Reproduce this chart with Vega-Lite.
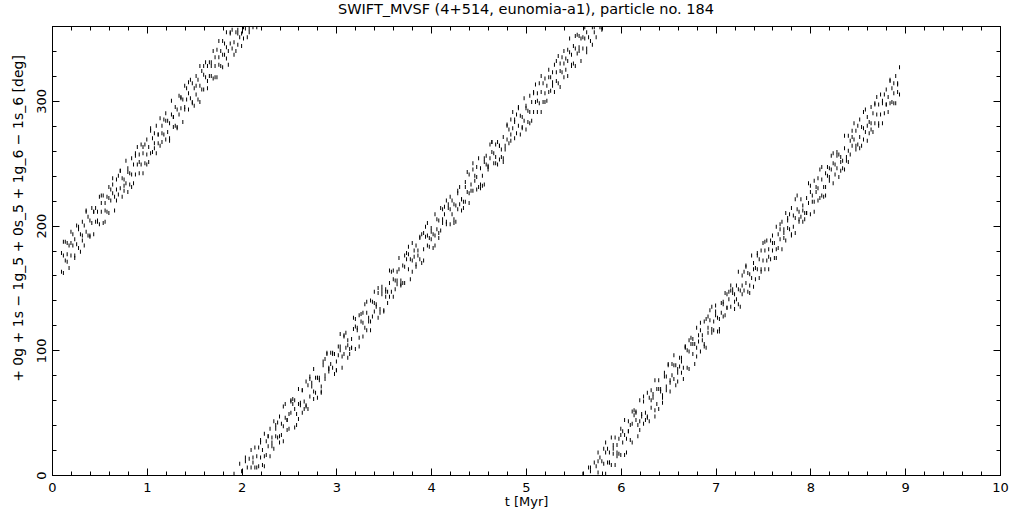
{
"$schema": "https://vega.github.io/schema/vega-lite/v6.json",
"width": 948, "height": 449,
"autosize": "none",
"padding": {"left": 52, "top": 26, "right": 21, "bottom": 36},
"background": "white",
"title": {"text": "SWIFT_MVSF (4+514, eunomia-a1), particle no. 184", "font": "DejaVu Sans", "fontSize": 14.5, "fontWeight": "normal", "color": "black", "anchor": "middle", "offset": 8},
"config": {"view": {"stroke": "black", "strokeWidth": 1}},
"data": {"values": [
{"t":0.10,"y":163},{"t":0.10,"y":178},{"t":0.12,"y":176},{"t":0.12,"y":162},{"t":0.14,"y":187},{"t":0.14,"y":172},{"t":0.16,"y":186},{"t":0.16,"y":177},{"t":0.18,"y":166},{"t":0.18,"y":184},
{"t":0.20,"y":195},{"t":0.20,"y":176},{"t":0.22,"y":184},{"t":0.22,"y":193},{"t":0.24,"y":176},{"t":0.24,"y":189},{"t":0.26,"y":185},{"t":0.26,"y":200},{"t":0.28,"y":182},{"t":0.28,"y":197},
{"t":0.30,"y":179},{"t":0.30,"y":193},{"t":0.32,"y":203},{"t":0.32,"y":188},{"t":0.34,"y":200},{"t":0.34,"y":184},{"t":0.36,"y":211},{"t":0.36,"y":195},{"t":0.38,"y":192},{"t":0.38,"y":207},
{"t":0.40,"y":204},{"t":0.40,"y":192},{"t":0.42,"y":202},{"t":0.42,"y":214},{"t":0.44,"y":193},{"t":0.44,"y":211},{"t":0.46,"y":214},{"t":0.46,"y":203},{"t":0.48,"y":203},{"t":0.48,"y":211},
{"t":0.50,"y":223},{"t":0.50,"y":201},{"t":0.52,"y":211},{"t":0.52,"y":218},{"t":0.54,"y":224},{"t":0.54,"y":202},{"t":0.56,"y":212},{"t":0.56,"y":218},{"t":0.58,"y":223},{"t":0.58,"y":211},
{"t":0.60,"y":210},{"t":0.60,"y":231},{"t":0.62,"y":229},{"t":0.62,"y":220},{"t":0.64,"y":226},{"t":0.64,"y":238},{"t":0.66,"y":212},{"t":0.66,"y":223},{"t":0.68,"y":237},{"t":0.68,"y":229},
{"t":0.70,"y":240},{"t":0.70,"y":225},{"t":0.72,"y":230},{"t":0.72,"y":244},{"t":0.74,"y":223},{"t":0.74,"y":238},{"t":0.76,"y":228},{"t":0.76,"y":237},{"t":0.78,"y":252},{"t":0.78,"y":234},
{"t":0.80,"y":227},{"t":0.80,"y":246},{"t":0.82,"y":242},{"t":0.82,"y":233},{"t":0.84,"y":254},{"t":0.84,"y":241},{"t":0.86,"y":249},{"t":0.86,"y":234},{"t":0.88,"y":256},{"t":0.88,"y":241},
{"t":0.90,"y":263},{"t":0.90,"y":249},{"t":0.92,"y":242},{"t":0.92,"y":257},{"t":0.94,"y":249},{"t":0.94,"y":265},{"t":0.96,"y":242},{"t":0.96,"y":258},{"t":0.98,"y":265},{"t":0.98,"y":250},
{"t":1.00,"y":257},{"t":1.00,"y":269},{"t":1.02,"y":263},{"t":1.02,"y":251},{"t":1.04,"y":276},{"t":1.04,"y":258},{"t":1.06,"y":259},{"t":1.06,"y":270},{"t":1.08,"y":274},{"t":1.08,"y":266},
{"t":1.10,"y":258},{"t":1.10,"y":280},{"t":1.12,"y":273},{"t":1.12,"y":266},{"t":1.14,"y":264},{"t":1.14,"y":286},{"t":1.16,"y":280},{"t":1.16,"y":274},{"t":1.18,"y":273},{"t":1.18,"y":285},
{"t":1.20,"y":290},{"t":1.20,"y":269},{"t":1.22,"y":275},{"t":1.22,"y":284},{"t":1.24,"y":282},{"t":1.24,"y":270},{"t":1.26,"y":300},{"t":1.26,"y":289},{"t":1.28,"y":279},{"t":1.28,"y":287},
{"t":1.30,"y":295},{"t":1.30,"y":280},{"t":1.32,"y":279},{"t":1.32,"y":293},{"t":1.34,"y":289},{"t":1.34,"y":304},{"t":1.36,"y":294},{"t":1.36,"y":303},{"t":1.38,"y":301},{"t":1.38,"y":283},
{"t":1.40,"y":293},{"t":1.40,"y":312},{"t":1.42,"y":310},{"t":1.42,"y":301},{"t":1.44,"y":306},{"t":1.44,"y":293},{"t":1.46,"y":317},{"t":1.46,"y":302},{"t":1.48,"y":314},{"t":1.48,"y":299},
{"t":1.50,"y":310},{"t":1.50,"y":296},{"t":1.52,"y":305},{"t":1.52,"y":320},{"t":1.54,"y":301},{"t":1.54,"y":317},{"t":1.56,"y":312},{"t":1.56,"y":328},{"t":1.58,"y":324},{"t":1.58,"y":309},
{"t":1.60,"y":309},{"t":1.60,"y":321},{"t":1.62,"y":331},{"t":1.62,"y":319},{"t":1.64,"y":328},{"t":1.64,"y":310},{"t":1.66,"y":320},{"t":1.66,"y":331},{"t":1.68,"y":328},{"t":1.68,"y":320},
{"t":1.70,"y":318},{"t":1.70,"y":340},{"t":1.72,"y":335},{"t":1.72,"y":328},{"t":1.74,"y":319},{"t":1.74,"y":341},{"t":1.76,"y":335},{"t":1.76,"y":329},{"t":1.78,"y":328},{"t":1.78,"y":340},
{"t":1.80,"y":348},{"t":1.80,"y":327},{"t":1.82,"y":337},{"t":1.82,"y":346},{"t":1.84,"y":355},{"t":1.84,"y":343},{"t":1.86,"y":340},{"t":1.86,"y":329},{"t":1.88,"y":346},{"t":1.88,"y":354},
{"t":1.90,"y":342},{"t":1.90,"y":357},{"t":1.92,"y":1},{"t":1.92,"y":347},{"t":1.94,"y":355},{"t":1.94,"y":340},{"t":1.96,"y":354},{"t":1.96,"y":345},{"t":1.98,"y":351},{"t":1.98,"y":9},
{"t":2.00,"y":3},{"t":2.00,"y":344},{"t":2.02,"y":350},{"t":2.02,"y":359},{"t":2.04,"y":358},{"t":2.04,"y":11},{"t":2.06,"y":351},{"t":2.06,"y":6},{"t":2.08,"y":358},{"t":2.08,"y":13},
{"t":2.10,"y":6},{"t":2.10,"y":20},{"t":2.12,"y":14},{"t":2.12,"y":359},{"t":2.14,"y":22},{"t":2.14,"y":6},{"t":2.16,"y":15},{"t":2.16,"y":359},{"t":2.18,"y":7},{"t":2.18,"y":22},
{"t":2.20,"y":26},{"t":2.20,"y":14},{"t":2.22,"y":8},{"t":2.22,"y":20},{"t":2.24,"y":15},{"t":2.24,"y":33},{"t":2.26,"y":27},{"t":2.26,"y":16},{"t":2.28,"y":23},{"t":2.28,"y":31},
{"t":2.30,"y":37},{"t":2.30,"y":15},{"t":2.32,"y":23},{"t":2.32,"y":30},{"t":2.34,"y":43},{"t":2.34,"y":21},{"t":2.36,"y":31},{"t":2.36,"y":37},{"t":2.38,"y":42},{"t":2.38,"y":30},
{"t":2.40,"y":26},{"t":2.40,"y":47},{"t":2.42,"y":41},{"t":2.42,"y":32},{"t":2.44,"y":27},{"t":2.44,"y":39},{"t":2.46,"y":46},{"t":2.46,"y":57},{"t":2.48,"y":44},{"t":2.48,"y":36},
{"t":2.50,"y":37},{"t":2.50,"y":49},{"t":2.52,"y":50},{"t":2.52,"y":60},{"t":2.54,"y":61},{"t":2.54,"y":57},{"t":2.56,"y":60},{"t":2.56,"y":53},{"t":2.58,"y":40},{"t":2.58,"y":49},
{"t":2.60,"y":69},{"t":2.60,"y":45},{"t":2.62,"y":58},{"t":2.62,"y":56},{"t":2.64,"y":50},{"t":2.64,"y":68},{"t":2.66,"y":59},{"t":2.66,"y":53},{"t":2.68,"y":56},{"t":2.68,"y":75},
{"t":2.70,"y":53},{"t":2.70,"y":72},{"t":2.72,"y":77},{"t":2.72,"y":63},{"t":2.74,"y":74},{"t":2.74,"y":71},{"t":2.76,"y":85},{"t":2.76,"y":61},{"t":2.78,"y":66},{"t":2.78,"y":78},
{"t":2.80,"y":78},{"t":2.80,"y":62},{"t":2.82,"y":76},{"t":2.82,"y":78},{"t":2.84,"y":67},{"t":2.84,"y":71},{"t":2.86,"y":88},{"t":2.86,"y":91},{"t":2.88,"y":77},{"t":2.88,"y":80},
{"t":2.90,"y":97},{"t":2.90,"y":98},{"t":2.92,"y":85},{"t":2.92,"y":83},{"t":2.94,"y":98},{"t":2.94,"y":89},{"t":2.96,"y":86},{"t":2.96,"y":97},{"t":2.98,"y":97},{"t":2.98,"y":81},
{"t":3.00,"y":84},{"t":3.00,"y":91},{"t":3.02,"y":103},{"t":3.02,"y":96},{"t":3.04,"y":100},{"t":3.04,"y":103},{"t":3.06,"y":86},{"t":3.06,"y":95},{"t":3.08,"y":111},{"t":3.08,"y":112},
{"t":3.10,"y":114},{"t":3.10,"y":102},{"t":3.12,"y":104},{"t":3.12,"y":94},{"t":3.14,"y":97},{"t":3.14,"y":101},{"t":3.16,"y":102},{"t":3.16,"y":109},{"t":3.18,"y":126},{"t":3.18,"y":117},
{"t":3.20,"y":101},{"t":3.20,"y":125},{"t":3.22,"y":116},{"t":3.22,"y":118},{"t":3.24,"y":128},{"t":3.24,"y":110},{"t":3.26,"y":123},{"t":3.26,"y":129},{"t":3.28,"y":130},{"t":3.28,"y":111},
{"t":3.30,"y":137},{"t":3.30,"y":118},{"t":3.32,"y":116},{"t":3.32,"y":130},{"t":3.34,"y":123},{"t":3.34,"y":126},{"t":3.36,"y":116},{"t":3.36,"y":140},{"t":3.38,"y":139},{"t":3.38,"y":127},
{"t":3.40,"y":131},{"t":3.40,"y":147},{"t":3.42,"y":137},{"t":3.42,"y":135},{"t":3.44,"y":150},{"t":3.44,"y":146},{"t":3.46,"y":133},{"t":3.46,"y":130},{"t":3.48,"y":148},{"t":3.48,"y":145},
{"t":3.50,"y":132},{"t":3.50,"y":131},{"t":3.52,"y":147},{"t":3.52,"y":149},{"t":3.54,"y":138},{"t":3.54,"y":147},{"t":3.56,"y":154},{"t":3.56,"y":143},{"t":3.58,"y":147},{"t":3.58,"y":163},
{"t":3.60,"y":164},{"t":3.60,"y":157},{"t":3.62,"y":149},{"t":3.62,"y":156},{"t":3.64,"y":156},{"t":3.64,"y":153},{"t":3.66,"y":174},{"t":3.66,"y":165},{"t":3.68,"y":153},{"t":3.68,"y":152},
{"t":3.70,"y":154},{"t":3.70,"y":168},{"t":3.72,"y":167},{"t":3.72,"y":176},{"t":3.74,"y":178},{"t":3.74,"y":173},{"t":3.76,"y":177},{"t":3.76,"y":165},{"t":3.78,"y":157},{"t":3.78,"y":173},
{"t":3.80,"y":186},{"t":3.80,"y":163},{"t":3.82,"y":175},{"t":3.82,"y":180},{"t":3.84,"y":167},{"t":3.84,"y":184},{"t":3.86,"y":176},{"t":3.86,"y":180},{"t":3.88,"y":173},{"t":3.88,"y":191},
{"t":3.90,"y":170},{"t":3.90,"y":193},{"t":3.92,"y":194},{"t":3.92,"y":181},{"t":3.94,"y":191},{"t":3.94,"y":199},{"t":3.96,"y":202},{"t":3.96,"y":184},{"t":3.98,"y":183},{"t":3.98,"y":190},
{"t":4.00,"y":195},{"t":4.00,"y":198},{"t":4.02,"y":193},{"t":4.02,"y":182},{"t":4.04,"y":184},{"t":4.04,"y":192},{"t":4.06,"y":205},{"t":4.06,"y":197},{"t":4.08,"y":194},{"t":4.08,"y":204},
{"t":4.10,"y":214},{"t":4.10,"y":196},{"t":4.12,"y":202},{"t":4.12,"y":213},{"t":4.14,"y":215},{"t":4.14,"y":209},{"t":4.16,"y":203},{"t":4.16,"y":220},{"t":4.18,"y":214},{"t":4.18,"y":217},
{"t":4.20,"y":201},{"t":4.20,"y":213},{"t":4.22,"y":220},{"t":4.22,"y":209},{"t":4.24,"y":217},{"t":4.24,"y":205},{"t":4.26,"y":203},{"t":4.26,"y":216},{"t":4.28,"y":228},{"t":4.28,"y":213},
{"t":4.30,"y":231},{"t":4.30,"y":217},{"t":4.32,"y":221},{"t":4.32,"y":212},{"t":4.34,"y":214},{"t":4.34,"y":219},{"t":4.36,"y":219},{"t":4.36,"y":231},{"t":4.38,"y":243},{"t":4.38,"y":227},
{"t":4.40,"y":218},{"t":4.40,"y":241},{"t":4.42,"y":233},{"t":4.42,"y":228},{"t":4.44,"y":245},{"t":4.44,"y":228},{"t":4.46,"y":240},{"t":4.46,"y":236},{"t":4.48,"y":247},{"t":4.48,"y":229},
{"t":4.50,"y":254},{"t":4.50,"y":231},{"t":4.52,"y":233},{"t":4.52,"y":246},{"t":4.54,"y":240},{"t":4.54,"y":232},{"t":4.56,"y":233},{"t":4.56,"y":251},{"t":4.58,"y":256},{"t":4.58,"y":249},
{"t":4.60,"y":248},{"t":4.60,"y":245},{"t":4.62,"y":254},{"t":4.62,"y":265},{"t":4.64,"y":267},{"t":4.64,"y":259},{"t":4.66,"y":250},{"t":4.66,"y":258},{"t":4.68,"y":265},{"t":4.68,"y":255},
{"t":4.70,"y":249},{"t":4.70,"y":267},{"t":4.72,"y":264},{"t":4.72,"y":253},{"t":4.74,"y":255},{"t":4.74,"y":261},{"t":4.76,"y":271},{"t":4.76,"y":254},{"t":4.78,"y":264},{"t":4.78,"y":261},
{"t":4.80,"y":281},{"t":4.80,"y":269},{"t":4.82,"y":266},{"t":4.82,"y":277},{"t":4.84,"y":273},{"t":4.84,"y":285},{"t":4.86,"y":291},{"t":4.86,"y":278},{"t":4.88,"y":270},{"t":4.88,"y":285},
{"t":4.90,"y":274},{"t":4.90,"y":289},{"t":4.92,"y":294},{"t":4.92,"y":280},{"t":4.94,"y":288},{"t":4.94,"y":273},{"t":4.96,"y":287},{"t":4.96,"y":278},{"t":4.98,"y":284},{"t":4.98,"y":302},
{"t":5.00,"y":296},{"t":5.00,"y":277},{"t":5.02,"y":283},{"t":5.02,"y":292},{"t":5.04,"y":291},{"t":5.04,"y":304},{"t":5.06,"y":284},{"t":5.06,"y":299},{"t":5.08,"y":291},{"t":5.08,"y":306},
{"t":5.10,"y":299},{"t":5.10,"y":313},{"t":5.12,"y":306},{"t":5.12,"y":291},{"t":5.14,"y":314},{"t":5.14,"y":298},{"t":5.16,"y":307},{"t":5.16,"y":291},{"t":5.18,"y":299},{"t":5.18,"y":314},
{"t":5.20,"y":318},{"t":5.20,"y":306},{"t":5.22,"y":300},{"t":5.22,"y":312},{"t":5.24,"y":307},{"t":5.24,"y":325},{"t":5.26,"y":319},{"t":5.26,"y":308},{"t":5.28,"y":315},{"t":5.28,"y":323},
{"t":5.30,"y":329},{"t":5.30,"y":307},{"t":5.32,"y":316},{"t":5.32,"y":323},{"t":5.34,"y":336},{"t":5.34,"y":314},{"t":5.36,"y":324},{"t":5.36,"y":330},{"t":5.38,"y":335},{"t":5.38,"y":323},
{"t":5.40,"y":319},{"t":5.40,"y":340},{"t":5.42,"y":334},{"t":5.42,"y":325},{"t":5.44,"y":320},{"t":5.44,"y":332},{"t":5.46,"y":339},{"t":5.46,"y":350},{"t":5.48,"y":337},{"t":5.48,"y":329},
{"t":5.50,"y":330},{"t":5.50,"y":344},{"t":5.52,"y":342},{"t":5.52,"y":328},{"t":5.54,"y":353},{"t":5.54,"y":338},{"t":5.56,"y":352},{"t":5.56,"y":343},{"t":5.58,"y":332},{"t":5.58,"y":350},
{"t":5.60,"y":1},{"t":5.60,"y":342},{"t":5.62,"y":350},{"t":5.62,"y":359},{"t":5.64,"y":342},{"t":5.64,"y":355},{"t":5.66,"y":351},{"t":5.66,"y":6},{"t":5.68,"y":348},{"t":5.68,"y":3},
{"t":5.70,"y":345},{"t":5.70,"y":359},{"t":5.72,"y":10},{"t":5.72,"y":355},{"t":5.74,"y":7},{"t":5.74,"y":351},{"t":5.76,"y":18},{"t":5.76,"y":2},{"t":5.78,"y":359},{"t":5.78,"y":14},
{"t":5.80,"y":11},{"t":5.80,"y":359},{"t":5.82,"y":9},{"t":5.82,"y":21},{"t":5.84,"y":1},{"t":5.84,"y":18},{"t":5.86,"y":21},{"t":5.86,"y":10},{"t":5.88,"y":10},{"t":5.88,"y":18},
{"t":5.90,"y":30},{"t":5.90,"y":8},{"t":5.92,"y":17},{"t":5.92,"y":24},{"t":5.94,"y":30},{"t":5.94,"y":8},{"t":5.96,"y":18},{"t":5.96,"y":24},{"t":5.98,"y":29},{"t":5.98,"y":17},
{"t":6.00,"y":16},{"t":6.00,"y":37},{"t":6.02,"y":35},{"t":6.02,"y":26},{"t":6.04,"y":32},{"t":6.04,"y":44},{"t":6.06,"y":18},{"t":6.06,"y":29},{"t":6.08,"y":43},{"t":6.08,"y":35},
{"t":6.10,"y":28},{"t":6.10,"y":40},{"t":6.12,"y":41},{"t":6.12,"y":51},{"t":6.14,"y":52},{"t":6.14,"y":48},{"t":6.16,"y":51},{"t":6.16,"y":44},{"t":6.18,"y":31},{"t":6.18,"y":40},
{"t":6.20,"y":60},{"t":6.20,"y":36},{"t":6.22,"y":49},{"t":6.22,"y":47},{"t":6.24,"y":41},{"t":6.24,"y":59},{"t":6.26,"y":50},{"t":6.26,"y":44},{"t":6.28,"y":47},{"t":6.28,"y":66},
{"t":6.30,"y":43},{"t":6.30,"y":62},{"t":6.32,"y":68},{"t":6.32,"y":54},{"t":6.34,"y":65},{"t":6.34,"y":62},{"t":6.36,"y":76},{"t":6.36,"y":52},{"t":6.38,"y":57},{"t":6.38,"y":69},
{"t":6.40,"y":69},{"t":6.40,"y":53},{"t":6.42,"y":67},{"t":6.42,"y":69},{"t":6.44,"y":58},{"t":6.44,"y":62},{"t":6.46,"y":79},{"t":6.46,"y":82},{"t":6.48,"y":68},{"t":6.48,"y":71},
{"t":6.50,"y":88},{"t":6.50,"y":89},{"t":6.52,"y":76},{"t":6.52,"y":74},{"t":6.54,"y":89},{"t":6.54,"y":80},{"t":6.56,"y":77},{"t":6.56,"y":88},{"t":6.58,"y":88},{"t":6.58,"y":72},
{"t":6.60,"y":75},{"t":6.60,"y":82},{"t":6.62,"y":94},{"t":6.62,"y":87},{"t":6.64,"y":91},{"t":6.64,"y":94},{"t":6.66,"y":77},{"t":6.66,"y":86},{"t":6.68,"y":102},{"t":6.68,"y":103},
{"t":6.70,"y":86},{"t":6.70,"y":100},{"t":6.72,"y":99},{"t":6.72,"y":108},{"t":6.74,"y":110},{"t":6.74,"y":105},{"t":6.76,"y":109},{"t":6.76,"y":97},{"t":6.78,"y":89},{"t":6.78,"y":105},
{"t":6.80,"y":118},{"t":6.80,"y":95},{"t":6.82,"y":107},{"t":6.82,"y":112},{"t":6.84,"y":99},{"t":6.84,"y":116},{"t":6.86,"y":108},{"t":6.86,"y":112},{"t":6.88,"y":105},{"t":6.88,"y":123},
{"t":6.90,"y":102},{"t":6.90,"y":125},{"t":6.92,"y":127},{"t":6.92,"y":114},{"t":6.94,"y":124},{"t":6.94,"y":132},{"t":6.96,"y":135},{"t":6.96,"y":117},{"t":6.98,"y":116},{"t":6.98,"y":123},
{"t":7.00,"y":128},{"t":7.00,"y":131},{"t":7.02,"y":126},{"t":7.02,"y":115},{"t":7.04,"y":117},{"t":7.04,"y":125},{"t":7.06,"y":138},{"t":7.06,"y":130},{"t":7.08,"y":127},{"t":7.08,"y":137},
{"t":7.10,"y":146},{"t":7.10,"y":128},{"t":7.12,"y":134},{"t":7.12,"y":145},{"t":7.14,"y":147},{"t":7.14,"y":141},{"t":7.16,"y":135},{"t":7.16,"y":152},{"t":7.18,"y":146},{"t":7.18,"y":149},
{"t":7.20,"y":133},{"t":7.20,"y":145},{"t":7.22,"y":152},{"t":7.22,"y":141},{"t":7.24,"y":149},{"t":7.24,"y":137},{"t":7.26,"y":135},{"t":7.26,"y":148},{"t":7.28,"y":160},{"t":7.28,"y":145},
{"t":7.30,"y":163},{"t":7.30,"y":148},{"t":7.32,"y":154},{"t":7.32,"y":168},{"t":7.34,"y":147},{"t":7.34,"y":162},{"t":7.36,"y":152},{"t":7.36,"y":161},{"t":7.38,"y":176},{"t":7.38,"y":158},
{"t":7.40,"y":151},{"t":7.40,"y":170},{"t":7.42,"y":166},{"t":7.42,"y":157},{"t":7.44,"y":178},{"t":7.44,"y":165},{"t":7.46,"y":173},{"t":7.46,"y":158},{"t":7.48,"y":180},{"t":7.48,"y":165},
{"t":7.50,"y":186},{"t":7.50,"y":172},{"t":7.52,"y":165},{"t":7.52,"y":180},{"t":7.54,"y":172},{"t":7.54,"y":188},{"t":7.56,"y":165},{"t":7.56,"y":181},{"t":7.58,"y":188},{"t":7.58,"y":173},
{"t":7.60,"y":180},{"t":7.60,"y":192},{"t":7.62,"y":186},{"t":7.62,"y":174},{"t":7.64,"y":199},{"t":7.64,"y":181},{"t":7.66,"y":182},{"t":7.66,"y":193},{"t":7.68,"y":197},{"t":7.68,"y":189},
{"t":7.70,"y":181},{"t":7.70,"y":203},{"t":7.72,"y":197},{"t":7.72,"y":190},{"t":7.74,"y":188},{"t":7.74,"y":210},{"t":7.76,"y":204},{"t":7.76,"y":198},{"t":7.78,"y":197},{"t":7.78,"y":209},
{"t":7.80,"y":214},{"t":7.80,"y":193},{"t":7.82,"y":199},{"t":7.82,"y":208},{"t":7.84,"y":206},{"t":7.84,"y":194},{"t":7.86,"y":224},{"t":7.86,"y":213},{"t":7.88,"y":203},{"t":7.88,"y":211},
{"t":7.90,"y":221},{"t":7.90,"y":207},{"t":7.92,"y":212},{"t":7.92,"y":203},{"t":7.94,"y":205},{"t":7.94,"y":210},{"t":7.96,"y":210},{"t":7.96,"y":222},{"t":7.98,"y":234},{"t":7.98,"y":218},
{"t":8.00,"y":209},{"t":8.00,"y":232},{"t":8.02,"y":224},{"t":8.02,"y":219},{"t":8.04,"y":236},{"t":8.04,"y":219},{"t":8.06,"y":231},{"t":8.06,"y":227},{"t":8.08,"y":238},{"t":8.08,"y":220},
{"t":8.10,"y":245},{"t":8.10,"y":222},{"t":8.12,"y":224},{"t":8.12,"y":237},{"t":8.14,"y":231},{"t":8.14,"y":223},{"t":8.16,"y":224},{"t":8.16,"y":242},{"t":8.18,"y":247},{"t":8.18,"y":240},
{"t":8.20,"y":239},{"t":8.20,"y":236},{"t":8.22,"y":245},{"t":8.22,"y":256},{"t":8.24,"y":258},{"t":8.24,"y":250},{"t":8.26,"y":241},{"t":8.26,"y":249},{"t":8.28,"y":256},{"t":8.28,"y":246},
{"t":8.30,"y":239},{"t":8.30,"y":257},{"t":8.32,"y":255},{"t":8.32,"y":244},{"t":8.34,"y":246},{"t":8.34,"y":252},{"t":8.36,"y":262},{"t":8.36,"y":245},{"t":8.38,"y":255},{"t":8.38,"y":252},
{"t":8.40,"y":272},{"t":8.40,"y":260},{"t":8.42,"y":257},{"t":8.42,"y":268},{"t":8.44,"y":264},{"t":8.44,"y":276},{"t":8.46,"y":282},{"t":8.46,"y":269},{"t":8.48,"y":261},{"t":8.48,"y":276},
{"t":8.50,"y":265},{"t":8.50,"y":280},{"t":8.52,"y":285},{"t":8.52,"y":271},{"t":8.54,"y":279},{"t":8.54,"y":264},{"t":8.56,"y":278},{"t":8.56,"y":269},{"t":8.58,"y":275},{"t":8.58,"y":293},
{"t":8.60,"y":287},{"t":8.60,"y":268},{"t":8.62,"y":274},{"t":8.62,"y":283},{"t":8.64,"y":282},{"t":8.64,"y":295},{"t":8.66,"y":275},{"t":8.66,"y":290},{"t":8.68,"y":282},{"t":8.68,"y":297},
{"t":8.70,"y":289},{"t":8.70,"y":303},{"t":8.72,"y":297},{"t":8.72,"y":282},{"t":8.74,"y":305},{"t":8.74,"y":289},{"t":8.76,"y":298},{"t":8.76,"y":282},{"t":8.78,"y":290},{"t":8.78,"y":305},
{"t":8.80,"y":309},{"t":8.80,"y":297},{"t":8.82,"y":291},{"t":8.82,"y":303},{"t":8.84,"y":298},{"t":8.84,"y":316},{"t":8.86,"y":310},{"t":8.86,"y":299},{"t":8.88,"y":306},{"t":8.88,"y":314},
{"t":8.90,"y":320},{"t":8.90,"y":298},{"t":8.92,"y":307},{"t":8.92,"y":314},{"t":8.94,"y":327},{"t":8.94,"y":305},
{"t":0.12,"y":187},{"t":0.16,"y":171},{"t":0.20,"y":186},{"t":0.24,"y":174},{"t":0.28,"y":199},{"t":0.32,"y":192},{"t":0.36,"y":212},{"t":0.40,"y":191},{"t":0.44,"y":211},{"t":0.48,"y":204},
{"t":0.52,"y":224},{"t":0.56,"y":203},{"t":0.60,"y":222},{"t":0.64,"y":233},{"t":0.68,"y":220},{"t":0.72,"y":244},{"t":0.76,"y":232},{"t":0.80,"y":243},{"t":0.84,"y":231},{"t":0.88,"y":258},
{"t":0.92,"y":251},{"t":0.96,"y":263},{"t":1.00,"y":249},{"t":1.04,"y":278},{"t":1.08,"y":262},{"t":1.12,"y":273},{"t":1.16,"y":267},{"t":1.20,"y":284},{"t":1.24,"y":268},{"t":1.28,"y":287},
{"t":1.32,"y":278},{"t":1.36,"y":302},{"t":1.40,"y":295},{"t":1.44,"y":315},{"t":1.48,"y":298},{"t":1.52,"y":312},{"t":1.56,"y":299},{"t":1.60,"y":328},{"t":1.64,"y":316},{"t":1.68,"y":331},
{"t":1.72,"y":319},{"t":1.76,"y":348},{"t":1.80,"y":337},{"t":1.84,"y":334},{"t":1.88,"y":355},{"t":1.92,"y":337},{"t":1.96,"y":357},{"t":2.00,"y":354},{"t":2.04,"y":14},{"t":2.08,"y":355},
{"t":2.12,"y":10},{"t":2.16,"y":6},{"t":2.20,"y":28},{"t":2.24,"y":7},{"t":2.28,"y":31},{"t":2.32,"y":26},{"t":2.36,"y":40},{"t":2.40,"y":31},{"t":2.44,"y":55},{"t":2.48,"y":44},
{"t":2.52,"y":59},{"t":2.56,"y":38},{"t":2.60,"y":57},{"t":2.64,"y":68},{"t":2.68,"y":55},{"t":2.72,"y":79},{"t":2.76,"y":67},{"t":2.80,"y":78},{"t":2.84,"y":66},{"t":2.88,"y":93},
{"t":2.92,"y":86},{"t":2.96,"y":98},{"t":3.00,"y":84},{"t":3.04,"y":113},{"t":3.08,"y":97},{"t":3.12,"y":108},{"t":3.16,"y":102},{"t":3.20,"y":119},{"t":3.24,"y":103},{"t":3.28,"y":122},
{"t":3.32,"y":139},{"t":3.36,"y":123},{"t":3.40,"y":138},{"t":3.44,"y":126},{"t":3.48,"y":151},{"t":3.52,"y":143},{"t":3.56,"y":164},{"t":3.60,"y":143},{"t":3.64,"y":163},{"t":3.68,"y":156},
{"t":3.72,"y":154},{"t":3.76,"y":183},{"t":3.80,"y":172},{"t":3.84,"y":169},{"t":3.88,"y":190},{"t":3.92,"y":172},{"t":3.96,"y":192},{"t":4.00,"y":189},{"t":4.04,"y":209},{"t":4.08,"y":190},
{"t":4.12,"y":205},{"t":4.16,"y":201},{"t":4.20,"y":223},{"t":4.24,"y":202},{"t":4.28,"y":226},{"t":4.32,"y":221},{"t":4.36,"y":235},{"t":4.40,"y":226},{"t":4.44,"y":250},{"t":4.48,"y":239},
{"t":4.52,"y":230},{"t":4.56,"y":254},{"t":4.60,"y":247},{"t":4.64,"y":267},{"t":4.68,"y":250},{"t":4.72,"y":264},{"t":4.76,"y":251},{"t":4.80,"y":280},{"t":4.84,"y":268},{"t":4.88,"y":283},
{"t":4.92,"y":295},{"t":4.96,"y":279},{"t":5.00,"y":294},{"t":5.04,"y":282},{"t":5.08,"y":307},{"t":5.12,"y":300},{"t":5.16,"y":320},{"t":5.20,"y":299},{"t":5.24,"y":319},{"t":5.28,"y":312},
{"t":5.32,"y":332},{"t":5.36,"y":311},{"t":5.40,"y":330},{"t":5.44,"y":341},{"t":5.48,"y":328},{"t":5.52,"y":352},{"t":5.56,"y":340},{"t":5.60,"y":351},{"t":5.64,"y":339},{"t":5.68,"y":6},
{"t":5.72,"y":359},{"t":5.76,"y":11},{"t":5.80,"y":357},{"t":5.84,"y":26},{"t":5.88,"y":10},{"t":5.92,"y":21},{"t":5.96,"y":15},{"t":6.00,"y":32},{"t":6.04,"y":16},{"t":6.08,"y":35},
{"t":6.12,"y":26},{"t":6.16,"y":50},{"t":6.20,"y":43},{"t":6.24,"y":63},{"t":6.28,"y":46},{"t":6.32,"y":60},{"t":6.36,"y":47},{"t":6.40,"y":76},{"t":6.44,"y":64},{"t":6.48,"y":79},
{"t":6.52,"y":67},{"t":6.56,"y":96},{"t":6.60,"y":85},{"t":6.64,"y":82},{"t":6.68,"y":103},{"t":6.72,"y":85},{"t":6.76,"y":105},{"t":6.80,"y":102},{"t":6.84,"y":122},{"t":6.88,"y":103},
{"t":6.92,"y":118},{"t":6.96,"y":114},{"t":7.00,"y":136},{"t":7.04,"y":115},{"t":7.08,"y":139},{"t":7.12,"y":134},{"t":7.16,"y":148},{"t":7.20,"y":139},{"t":7.24,"y":163},{"t":7.28,"y":152},
{"t":7.32,"y":167},{"t":7.36,"y":146},{"t":7.40,"y":165},{"t":7.44,"y":176},{"t":7.48,"y":163},{"t":7.52,"y":187},{"t":7.56,"y":175},{"t":7.60,"y":186},{"t":7.64,"y":174},{"t":7.68,"y":201},
{"t":7.72,"y":194},{"t":7.76,"y":206},{"t":7.80,"y":192},{"t":7.84,"y":221},{"t":7.88,"y":205},{"t":7.92,"y":216},{"t":7.96,"y":210},{"t":8.00,"y":227},{"t":8.04,"y":211},{"t":8.08,"y":230},
{"t":8.12,"y":247},{"t":8.16,"y":231},{"t":8.20,"y":246},{"t":8.24,"y":234},{"t":8.28,"y":259},{"t":8.32,"y":251},{"t":8.36,"y":272},{"t":8.40,"y":251},{"t":8.44,"y":271},{"t":8.48,"y":264},
{"t":8.52,"y":262},{"t":8.56,"y":291},{"t":8.60,"y":280},{"t":8.64,"y":277},{"t":8.68,"y":298},{"t":8.72,"y":280},{"t":8.76,"y":300},{"t":8.80,"y":297},{"t":8.84,"y":317},{"t":8.88,"y":298},
{"t":8.92,"y":313}
]},
"layer": [
{"mark": {"type": "tick", "orient": "vertical", "size": 4, "thickness": 1, "color": "black", "opacity": 1, "clip": true},
 "encoding": {
  "x": {"field": "t", "type": "quantitative", "scale": {"domain": [0, 10], "nice": false, "zero": false},
   "axis": {"orient": "bottom", "values": [0,0.2,0.4,0.6,0.8,1,1.2,1.4,1.6,1.8,2,2.2,2.4,2.6,2.8,3,3.2,3.4,3.6,3.8,4,4.2,4.4,4.6,4.8,5,5.2,5.4,5.6,5.8,6,6.2,6.4,6.6,6.8,7,7.2,7.4,7.6,7.8,8,8.2,8.4,8.6,8.8,9,9.2,9.4,9.6,9.8,10],
    "tickSize": {"condition": {"test": "datum.value % 1 === 0", "value": -7}, "value": -4},
    "labelExpr": "datum.value % 1 === 0 ? format(datum.value, 'd') : ''",
    "grid": false, "domainColor": "black", "tickColor": "black", "labelColor": "black",
    "labelFont": "DejaVu Sans", "labelFontSize": 13, "labelPadding": 13, "labelFlush": false, "labelOverlap": false,
    "title": "t [Myr]", "titleFont": "DejaVu Sans", "titleFontSize": 13, "titleFontWeight": "normal", "titleColor": "black",
    "titleX": 474, "titleY": 26, "titleAlign": "center", "titleBaseline": "middle"}},
  "y": {"field": "y", "type": "quantitative", "scale": {"domain": [0, 360], "nice": false, "zero": false},
   "axis": {"orient": "left", "values": [0,20,40,60,80,100,120,140,160,180,200,220,240,260,280,300,320,340,360],
    "tickSize": {"condition": {"test": "datum.value % 100 === 0", "value": -7}, "value": -4},
    "labelExpr": "datum.value % 100 === 0 ? format(datum.value, 'd') : ''",
    "grid": false, "domainColor": "black", "tickColor": "black", "labelColor": "black",
    "labelFont": "DejaVu Sans", "labelFontSize": 13, "labelAngle": -90, "labelAlign": "center", "labelBaseline": "bottom", "labelPadding": 11, "labelFlush": false, "labelOverlap": false,
    "title": "+ 0g + 1s − 1g_5 + 0s_5 + 1g_6 − 1s_6 [deg]", "titleFont": "DejaVu Sans", "titleFontSize": 14, "titleFontWeight": "normal", "titleColor": "black",
    "titleAngle": -90, "titleX": -34, "titleY": 192, "titleAlign": "center", "titleBaseline": "middle"}}
 }},
{"mark": {"type": "tick", "orient": "vertical", "size": 4, "thickness": 1, "color": "black", "opacity": 0},
 "encoding": {
  "x": {"field": "t", "type": "quantitative", "scale": {"domain": [0, 10], "nice": false, "zero": false},
   "axis": {"orient": "top", "values": [0,0.2,0.4,0.6,0.8,1,1.2,1.4,1.6,1.8,2,2.2,2.4,2.6,2.8,3,3.2,3.4,3.6,3.8,4,4.2,4.4,4.6,4.8,5,5.2,5.4,5.6,5.8,6,6.2,6.4,6.6,6.8,7,7.2,7.4,7.6,7.8,8,8.2,8.4,8.6,8.8,9,9.2,9.4,9.6,9.8,10],
    "tickSize": {"condition": {"test": "datum.value % 1 === 0", "value": -7}, "value": -4},
    "labels": false, "title": null, "grid": false, "domainColor": "black", "tickColor": "black"}},
  "y": {"field": "y", "type": "quantitative", "scale": {"domain": [0, 360], "nice": false, "zero": false},
   "axis": {"orient": "right", "values": [0,20,40,60,80,100,120,140,160,180,200,220,240,260,280,300,320,340,360],
    "tickSize": {"condition": {"test": "datum.value % 100 === 0", "value": -7}, "value": -4},
    "labels": false, "title": null, "grid": false, "domainColor": "black", "tickColor": "black"}}
 }}
],
"resolve": {"axis": {"x": "independent", "y": "independent"}}
}
